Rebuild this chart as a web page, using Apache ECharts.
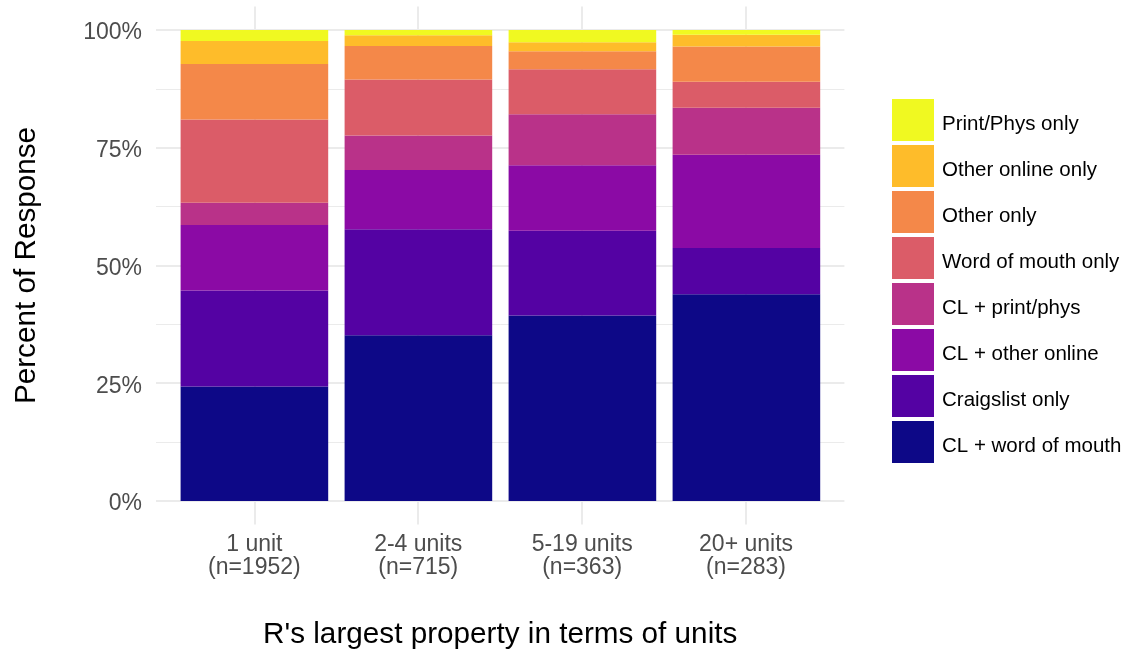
<!DOCTYPE html>
<html>
<head>
<meta charset="utf-8">
<script src="https://cdn.jsdelivr.net/npm/echarts@6/dist/echarts.min.js"></script>
<style>
html,body{margin:0;padding:0;background:#fff;}
#chart{width:1130px;height:656px;}
</style>
</head>
<body>
<div id="chart"></div>
<script>
// Categories
const categories = ['1 unit\n(n=1952)', '2-4 units\n(n=715)', '5-19 units\n(n=363)', '20+ units\n(n=283)'];
const categoryPositions = [1, 2, 3, 4];

// Series (stack order bottom -> top), percent of response
const clWordOfMouth   = [24.3, 35.2, 39.4, 43.9];
const craigslistOnly  = [20.4, 22.5, 18.0, 9.8];
const clOtherOnline   = [13.9, 12.6, 13.9, 19.8];
const clPrintPhys     = [4.7, 7.3, 10.8, 10.0];
const wordOfMouthOnly = [17.7, 11.9, 9.6, 5.5];
const otherOnly       = [11.8, 7.1, 3.8, 7.5];
const otherOnlineOnly = [4.9, 2.3, 1.9, 2.5];
const printPhysOnly   = [2.3, 1.1, 2.6, 1.0];

const seriesNames = ['CL + word of mouth', 'Craigslist only', 'CL + other online', 'CL + print/phys',
  'Word of mouth only', 'Other only', 'Other online only', 'Print/Phys only'];
const seriesValues = [clWordOfMouth, craigslistOnly, clOtherOnline, clPrintPhys,
  wordOfMouthOnly, otherOnly, otherOnlineOnly, printPhysOnly];
const seriesColors = ['#0D0887', '#5402A3', '#8B0AA5', '#B93289', '#DB5C68', '#F48849', '#FEBC2A', '#F0F921'];

// Tick values
const yMajorTicks = [0, 25, 50, 75, 100];
const yMinorTicks = [12.5, 37.5, 62.5, 87.5];

const chart = echarts.init(document.getElementById('chart'), null, {renderer: 'canvas'});

const FONT = 'Liberation Sans, Arial, sans-serif';
const Y_MIN = -5, Y_MAX = 105;

const series = seriesNames.map((name, i) => ({
  name: name,
  type: 'bar',
  stack: 'total',
  xAxisIndex: 1,
  yAxisIndex: 2,
  barWidth: '90%',
  itemStyle: {color: seriesColors[i]},
  emphasis: {disabled: true},
  z: 3,
  data: seriesValues[i]
}));

chart.setOption({
  animation: false,
  backgroundColor: '#ffffff',
  grid: [
    // panel (grid lines, labels, titles)
    {left: 156, right: 285.6, top: 6.5, bottom: 131.5, containLabel: false, outerBoundsMode: 'none'},
    // bars: panel minus discrete expansion
    {left: 172.4, right: 301.6, top: 6.5, bottom: 131.5, containLabel: false, outerBoundsMode: 'none'}
  ],
  legend: {
    orient: 'vertical',
    left: 892,
    top: 99,
    padding: 0,
    itemWidth: 42,
    itemHeight: 42,
    itemGap: 4,
    icon: 'rect',
    selectedMode: false,
    data: seriesNames.slice().reverse(),
    formatter: name => '{t|' + name + '}',
    textStyle: {
      fontFamily: FONT, fontSize: 20.5, color: '#000000',
      rich: {t: {fontFamily: FONT, fontSize: 20.5, color: '#000000', padding: [8, 0, 0, 3]}}
    }
  },
  xAxis: [{
    gridIndex: 0,
    type: 'value',
    min: 0.4,
    max: 4.6,
    name: "R's largest property in terms of units",
    nameLocation: 'middle',
    nameGap: 95,
    nameTextStyle: {fontFamily: FONT, fontSize: 29.7, color: '#000000'},
    axisLine: {show: false},
    axisTick: {show: false, customValues: categoryPositions},
    axisLabel: {
      customValues: categoryPositions,
      formatter: v => categories[Math.round(v) - 1],
      fontFamily: FONT, fontSize: 23, color: '#4D4D4D', lineHeight: 23, margin: 9
    },
    splitLine: {show: true, lineStyle: {color: '#EBEBEB', width: 2}}
  }, {
    gridIndex: 1,
    type: 'category',
    data: categories,
    boundaryGap: true,
    axisLine: {show: false},
    axisTick: {show: false},
    axisLabel: {show: false},
    splitLine: {show: false}
  }],
  yAxis: [{
    gridIndex: 0,
    type: 'value',
    min: Y_MIN,
    max: Y_MAX,
    name: 'Percent of Response',
    nameLocation: 'middle',
    nameRotate: 90,
    nameGap: 114,
    nameTextStyle: {fontFamily: FONT, fontSize: 29.7, color: '#000000'},
    axisLine: {show: false},
    axisTick: {show: false, customValues: yMajorTicks},
    axisLabel: {
      customValues: yMajorTicks,
      formatter: v => '{p|' + v + '%}',
      fontFamily: FONT, fontSize: 23, color: '#4D4D4D', margin: 14,
      rich: {p: {fontFamily: FONT, fontSize: 23, color: '#4D4D4D', padding: [6, 0, 0, 0]}}
    },
    splitLine: {show: true, lineStyle: {color: '#EBEBEB', width: 2}}
  }, {
    gridIndex: 0,
    type: 'value',
    min: Y_MIN,
    max: Y_MAX,
    position: 'left',
    axisLine: {show: false},
    axisTick: {show: false, customValues: yMinorTicks},
    axisLabel: {show: false},
    splitLine: {show: true, lineStyle: {color: '#EBEBEB', width: 1}}
  }, {
    gridIndex: 1,
    type: 'value',
    min: Y_MIN,
    max: Y_MAX,
    axisLine: {show: false},
    axisTick: {show: false},
    axisLabel: {show: false},
    splitLine: {show: false}
  }],
  series: series
});
</script>
</body>
</html>
